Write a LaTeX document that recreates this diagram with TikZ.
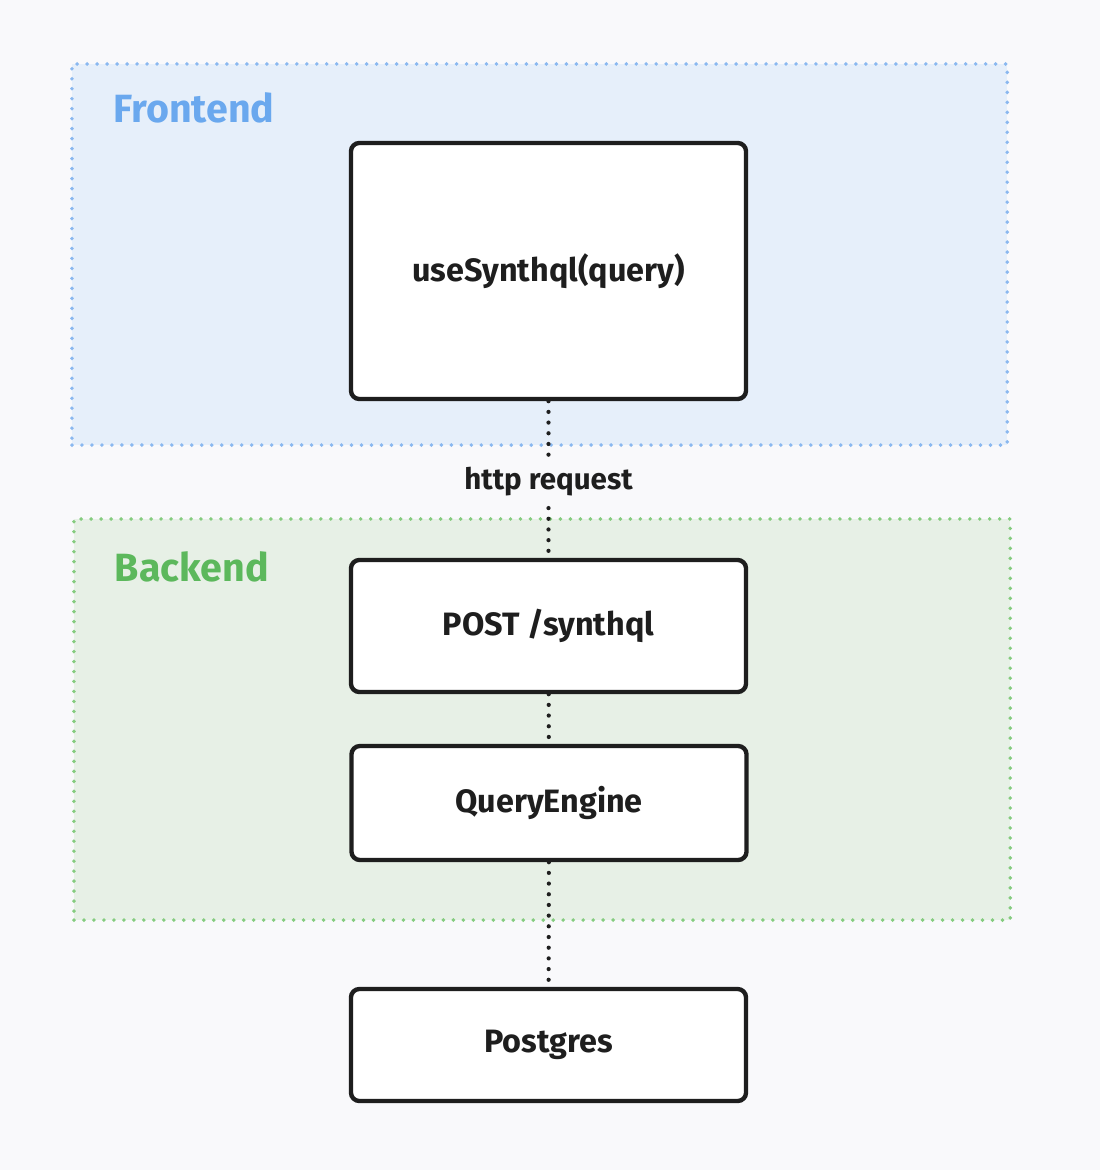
\documentclass[tikz,border=0pt]{standalone}
\usepackage{fontspec}
\setmainfont{Fira Sans}
\usepackage{xcolor}
\usetikzlibrary{positioning}

\definecolor{pagebg}{HTML}{F9F9FB}
\definecolor{frontfill}{HTML}{E6EFFA}
\definecolor{frontline}{HTML}{8AB8F0}
\definecolor{fronttext}{HTML}{6AA8EE}
\definecolor{backfill}{HTML}{E7F0E6}
\definecolor{backline}{HTML}{85CC7F}
\definecolor{backtext}{HTML}{5CB85C}
\definecolor{ink}{HTML}{1E1E1E}

\begin{document}
\begin{tikzpicture}[x=0.025cm, y=-0.025cm,
    group/.style={draw, line width=2.8pt, dash pattern=on 0pt off 7.1pt,
      line cap=round, inner sep=0pt, anchor=north west},
    block/.style={draw=ink, fill=white, line width=3.1pt, rounded corners=6pt,
      minimum width=9.875cm, inner sep=0pt, font=\bfseries\fontsize{23}{27}\selectfont,
      text=ink},
    link/.style={draw=ink, line width=3pt, dash pattern=on 0pt off 7.6pt,
      line cap=round},
    grouplabel/.style={font=\bfseries\fontsize{28}{33}\selectfont, anchor=center}]

    \fill[pagebg] (0, 0) rectangle (1100, 1170);
    \useasboundingbox (0, 0) rectangle (1100, 1170);

    % groups
    \node[group, draw=frontline, fill=frontfill,
      minimum width=23.375cm, minimum height=9.525cm] (frontend) at (70, 62) {};
    \node[grouplabel, text=fronttext] (frontendlabel) at (194, 108) {Frontend};

    \node[group, draw=backline, fill=backfill,
      minimum width=23.4cm, minimum height=10.025cm] (backend) at (72, 517) {};
    \node[grouplabel, text=backtext] (backendlabel) at (192, 567) {Backend};

    % blocks
    \node[block, minimum height=6.4cm] (usesynthql) at (548.5, 271) {useSynthql(query)};
    \node[block, minimum height=3.3cm] (post) at (548.5, 626) {POST /synthql};
    \node[block, minimum height=2.85cm] (engine) at (549, 803) {QueryEngine};
    \node[block, minimum height=2.8cm] (postgres) at (548.5, 1045) {Postgres};

    % links
    \draw[link] (usesynthql) -- (post)
      node[midway, yshift=-0.05cm, fill=pagebg, text=ink, inner sep=5pt,
        font=\bfseries\fontsize{21}{25}\selectfont] (request) {http request};
    \draw[link] (post) -- (engine);
    \draw[link] (engine) -- (postgres);

  \end{tikzpicture}
\end{document}
